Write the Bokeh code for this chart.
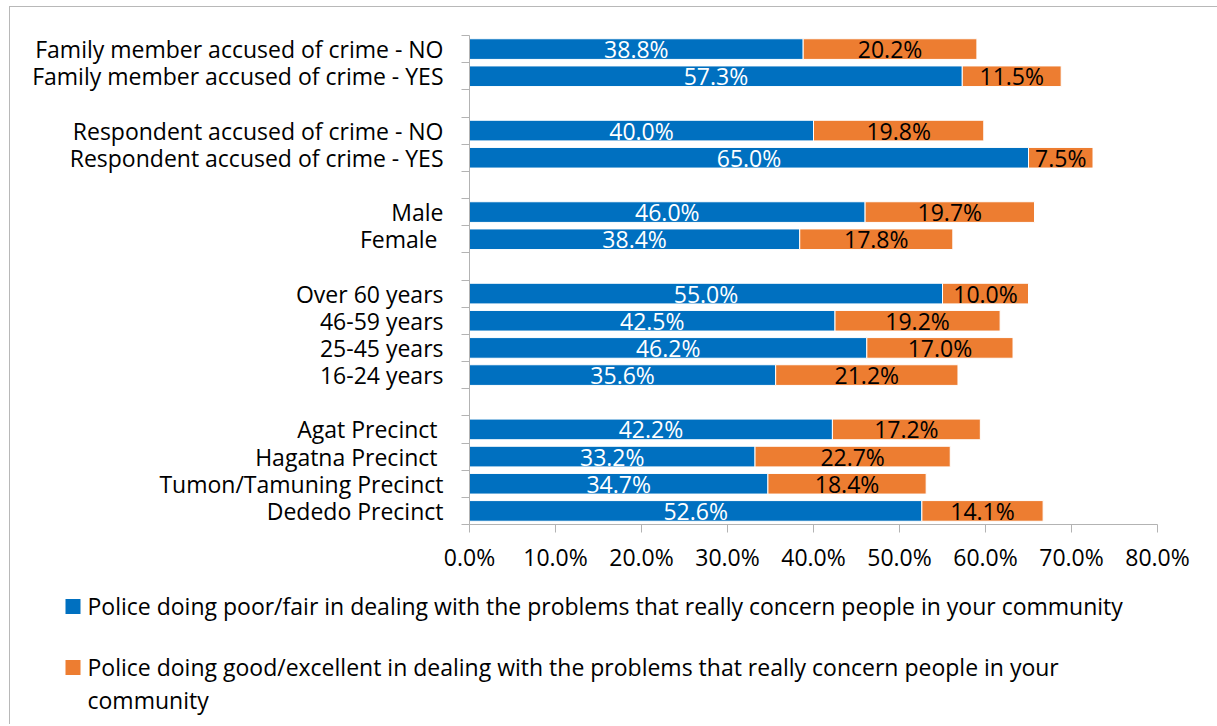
from bokeh.plotting import figure
from bokeh.layouts import column
from bokeh.models import Range1d, FixedTicker, ColumnDataSource
from bokeh.core.properties import value
from bokeh.embed import file_html
from bokeh.resources import INLINE

categories = [
    "Family member accused of crime - NO",
    "Family member accused of crime - YES",
    "Respondent accused of crime - NO",
    "Respondent accused of crime - YES",
    "Male",
    "Female ",
    "Over 60 years",
    "46-59 years",
    "25-45 years",
    "16-24 years",
    "Agat Precinct ",
    "Hagatna Precinct ",
    "Tumon/Tamuning Precinct",
    "Dededo Precinct",
]
group_sizes = [2, 2, 2, 4, 4]
poor_fair = [38.8, 57.3, 40.0, 65.0, 46.0, 38.4, 55.0, 42.5, 46.2, 35.6, 42.2, 33.2, 34.7, 52.6]
good_excellent = [20.2, 11.5, 19.8, 7.5, 19.7, 17.8, 10.0, 19.2, 17.0, 21.2, 17.2, 22.7, 18.4, 14.1]
x_ticks = [0, 10, 20, 30, 40, 50, 60, 70, 80]
series_names = [
    "Police doing poor/fair in dealing with the problems that really concern people in your community",
    "Police doing good/excellent in dealing with the problems that really concern people in your",
    "community",
]

BLUE = "#0070C0"
ORANGE = "#ED7D31"
AXIS = "#b3b3b3"
FONT = "Open Sans"
FS = "23px"

# positions with a blank slot between groups
pos = []
p_i = 0
for gi, g in enumerate(group_sizes):
    for _ in range(g):
        pos.append(p_i)
        p_i += 1
    if gi < len(group_sizes) - 1:
        p_i += 1
n_slots = p_i

src = ColumnDataSource(dict(
    y=pos, poor=poor_fair, good=good_excellent,
    right2=[a + b for a, b in zip(poor_fair, good_excellent)],
    mid1=[a / 2 for a in poor_fair],
    mid2=[a + b / 2 for a, b in zip(poor_fair, good_excellent)],
    lab1=[f"{v:.1f}%" for v in poor_fair],
    lab2=[f"{v:.1f}%" for v in good_excellent],
))

W = 1207
p = figure(width=W, height=581, output_backend="svg", toolbar_location=None,
           x_range=Range1d(0, 80), y_range=Range1d(n_slots - 0.5, -0.5),
           min_border_left=459, min_border_right=60, min_border_top=28, min_border_bottom=64)
p.frame_align = False
p.outline_line_color = None
p.grid.visible = False

p.hbar(y="y", left=0, right="poor", height=0.76, source=src, fill_color=BLUE, line_color="white", line_width=1)
p.hbar(y="y", left="poor", right="right2", height=0.76, source=src, fill_color=ORANGE, line_color="white", line_width=1)
p.text(x="mid1", y="y", text="lab1", source=src, text_align="center", text_baseline="middle",
       text_color="white", text_font=value(FONT), text_font_size=FS)
p.text(x="mid2", y="y", text="lab2", source=src, text_align="center", text_baseline="middle",
       text_color="black", text_font=value(FONT), text_font_size=FS)

# x axis
xa = p.xaxis[0]
xa.ticker = FixedTicker(ticks=x_ticks, minor_ticks=[])
xa.major_label_overrides = {t: f"{t:.1f}%" for t in x_ticks}
xa.axis_line_color = AXIS
xa.major_tick_line_color = AXIS
xa.major_tick_in = 0
xa.major_tick_out = 8
xa.minor_tick_line_color = None
xa.major_label_standoff = 8
xa.major_label_text_font = FONT
xa.major_label_text_font_size = FS
xa.major_label_text_color = "black"

# y axis
ya = p.yaxis[0]
ya.ticker = FixedTicker(ticks=pos, minor_ticks=[k - 0.5 for k in range(n_slots + 1)])
ya.major_label_overrides = {y: c for y, c in zip(pos, categories)}
ya.axis_line_color = AXIS
ya.major_tick_line_color = None
ya.major_tick_in = 0
ya.major_tick_out = 0
ya.minor_tick_line_color = AXIS
ya.minor_tick_in = 0
ya.minor_tick_out = 8
ya.major_label_standoff = 18
ya.major_label_text_font = FONT
ya.major_label_text_font_size = FS
ya.major_label_text_color = "black"

# legend figure (pixel coordinates)
LH = 136
lg = figure(width=W, height=LH, output_backend="svg", toolbar_location=None,
            x_range=Range1d(0, W), y_range=Range1d(LH, 0),
            min_border=0, min_border_left=0, min_border_right=0, min_border_top=0, min_border_bottom=0)
lg.frame_align = False
lg.axis.visible = False
lg.grid.visible = False
lg.outline_line_color = None
legend_colors = [BLUE, ORANGE]
lg.rect(x=[62.5, 62.5], y=[18, 79], width=15, height=15, fill_color=legend_colors, line_color=None)
lg.text(x=[77, 77, 77], y=[17, 78, 111], text=series_names, text_align="left", text_baseline="middle",
        text_font=value(FONT), text_font_size=FS, text_color="black")

layout = column(p, lg, spacing=0)
layout.styles = {"margin-left": "9px", "margin-top": "6px",
                 "border-left": "1px solid #b8b8b8", "border-top": "1px solid #b8b8b8"}

open("out.html", "w").write(file_html(layout, INLINE))
